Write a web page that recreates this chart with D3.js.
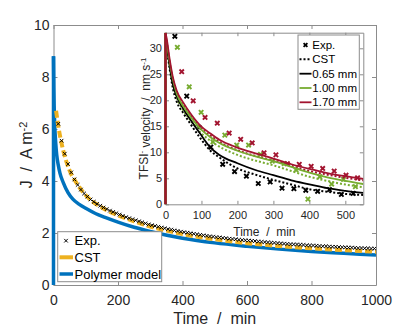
<!DOCTYPE html>
<html>
<head>
<meta charset="utf-8">
<script src="https://cdn.jsdelivr.net/npm/d3@7"></script>
<style>
body { margin: 0; background: #fff; }
svg { font-family: "Liberation Sans", Arial, Helvetica, sans-serif; }
.axis path, .axis line { stroke: #8c8c8c; }
.axis text { fill: #262626; }
</style>
</head>
<body>
<div id="chart"></div>
<script>
/* main plot data: current density J (A m^-2) vs time (min) */
var expTime = [15,25,35,45,55,65,75,85,95,105,115,125,135,145,155,165,175,185,195,
  205,215,225,235,245,255,265,275,285,295,305,315,325,335,345,355,365,375,385,395,
  405,415,425,435,445,455,465,475,485,495,505,515,525,535,545,555,565,575,585,595,
  605,615,625,635,645,655,665,675,685,695,705,715,725,735,745,755,765,775,785,795,
  805,815,825,835,845,855,865,875,885,895,905,915,925,935,945,955,965,975,985,995];
var expJ = [6.20,5.55,5.05,4.65,4.33,4.06,3.85,3.67,3.52,3.40,3.29,3.20,3.12,3.05,2.98,2.92,2.86,2.81,2.76,
  2.71,2.66,2.61,2.57,2.53,2.49,2.45,2.41,2.37,2.33,2.30,2.27,2.24,2.21,2.18,2.15,2.13,2.10,2.08,2.05,
  2.03,2.01,1.99,1.97,1.95,1.93,1.91,1.89,1.87,1.86,1.84,1.83,1.81,1.80,1.78,1.77,1.76,1.74,1.73,1.72,
  1.71,1.70,1.69,1.67,1.66,1.65,1.64,1.63,1.62,1.61,1.60,1.59,1.58,1.57,1.56,1.56,1.55,1.54,1.53,1.52,
  1.52,1.51,1.50,1.49,1.49,1.48,1.47,1.47,1.46,1.45,1.45,1.44,1.44,1.43,1.42,1.42,1.41,1.41,1.40,1.40];

var cstTime = [8,15,25,35,50,70,100,150,200,250,300,400,500,600,700,800,900,1000];
var cstJ = [6.7,6.1,5.45,4.95,4.4,3.95,3.45,2.98,2.68,2.45,2.25,1.96,1.76,1.61,1.50,1.41,1.34,1.28];

var polyTime = [0,0,1,2,4,7,10,15,20,30,45,60,80,100,130,160,200,250,300,400,500,600,700,800,900,1000];
var polyJ = [0,8.8,7.6,6.9,6.1,5.45,5.0,4.6,4.3,3.95,3.55,3.3,3.1,2.95,2.75,2.6,2.42,2.22,2.06,1.8,1.62,1.49,1.38,1.29,1.22,1.15];

var mainXTicks = [0,200,400,600,800,1000];
var mainYTicks = [0,2,4,6,8,10];
var mainLegend = ["Exp.", "CST", "Polymer model"];

/* inset data: TFSI- velocity (nm s^-1) vs time (min) */
var insetTime = [0,0,3,12,20,31,50,68,96,125,150,200,250,300,350,400,450,500,550];
var model065 = [0,33,31,26.5,23.2,20.8,18.3,16.4,13.6,10.9,9.5,7.9,6.6,5.6,4.6,3.85,3.1,2.6,2.2];
var model100 = [0,33,31.5,27.2,24.2,21.3,18.8,17.0,14.6,12.9,11.8,10.3,9.2,8.3,7.2,6.1,5.2,4.5,3.9];
var model170 = [0,33,32,27.7,24.6,21.9,19.5,17.6,15.2,13.6,12.4,10.9,9.8,8.8,7.7,6.8,6.0,5.4,4.9];
var cstTimeInset = [3,12,20,31,50,68,96,125,150,200,250,300,350,400,450,500,550];
var cst065 = [30.5,25.8,22.5,19.8,17.5,15.6,12.8,10.3,9.0,6.9,5.7,4.7,3.8,2.9,2.4,2.0,1.8];
var cst100 = [31,26.5,23.3,20.6,18,16.3,13.9,12.2,11.1,9.5,8.4,7.5,6.4,5.3,4.5,3.8,3.3];
var cst170 = [31.5,27,24,21.4,19,17.2,14.8,13.2,12.0,10.4,9.3,8.4,7.4,6.4,5.7,5.1,4.6];

var exp065Time = [26,59,93,126,159,192,225,258,291,324,357,390,423,456,489,522];
var exp065 = [32.3,20.8,14.8,11.0,7.7,6.3,5.4,4.0,4.3,3.1,3.0,2.7,2.5,2.8,1.9,2.1];
var exp100Time = [33,66,99,132,165,198,231,264,297,330,363,396,429,462,495,528];
var exp100 = [30.2,22.6,17.7,12.0,13.3,11.4,11.4,9.6,8.3,7.8,6.6,1.0,5.3,3.9,4.8,3.4];
var exp170Time = [45,77,110,144,177,209,241,274,307,339,372,405,437,469,502,534];
var exp170 = [25.5,19.9,16.7,15.6,13.7,12.5,11.8,9.9,9.5,7.8,7.7,7.3,6.9,6.4,5.6,5.1];

var insetXTicks = [0,100,200,300,400,500];
var insetYTicks = [0,5,10,15,20,25,30];
var insetLegend = ["Exp.", "CST", "0.65 mm", "1.00 mm", "1.70 mm"];

var blue = "#0072BD", orange = "#EDB120", green = "#77AC30", red = "#A2142F";

var svg = d3.select("#chart").append("svg")
  .attr("width", 415)
  .attr("height", 329);

function zip(xs, ys) { return xs.map(function(t, i) { return [t, ys[i]]; }); }
function cross(s) { return "M" + (-s) + "," + (-s) + "L" + s + "," + s + "M" + (-s) + "," + s + "L" + s + "," + (-s); }

/* ---------- main axes ---------- */
var x = d3.scaleLinear().domain([0, 1000]).range([53.5, 376]);
var y = d3.scaleLinear().domain([0, 10]).range([285, 25]);

svg.append("defs").append("clipPath").attr("id", "clipMain")
  .append("rect").attr("x", 50).attr("y", 25).attr("width", 326).attr("height", 262);

svg.append("g").attr("class", "axis")
  .attr("transform", "translate(0,285)")
  .call(d3.axisBottom(x).tickValues(mainXTicks).tickFormat(d3.format("d"))
    .tickSizeInner(-4).tickSizeOuter(0).tickPadding(10))
  .selectAll("text").style("font-size", "14px");
svg.append("g").attr("class", "axis")
  .attr("transform", "translate(0,25)")
  .call(d3.axisTop(x).tickValues(mainXTicks).tickSizeInner(-4).tickSizeOuter(0).tickFormat(""));
svg.append("g").attr("class", "axis")
  .attr("transform", "translate(53.5,0)")
  .call(d3.axisLeft(y).tickValues(mainYTicks).tickSizeInner(-4).tickSizeOuter(0).tickPadding(4))
  .selectAll("text").style("font-size", "14px");
svg.append("g").attr("class", "axis")
  .attr("transform", "translate(376,0)")
  .call(d3.axisRight(y).tickValues(mainYTicks).tickSizeInner(-4).tickSizeOuter(0).tickFormat(""));

var plot = svg.append("g").attr("clip-path", "url(#clipMain)");

var lineMain = d3.line().x(function(d) { return x(d[0]); }).y(function(d) { return y(d[1]); });
var smoothMain = d3.line().curve(d3.curveMonotoneX).x(function(d) { return x(d[0]); }).y(function(d) { return y(d[1]); });

var polyData = zip(polyTime, polyJ);
plot.append("path").attr("d", lineMain(polyData.slice(0, 2)))
  .attr("fill", "none").attr("stroke", blue).attr("stroke-width", 3.5);
plot.append("path").attr("d", smoothMain(polyData.slice(1)))
  .attr("fill", "none").attr("stroke", blue).attr("stroke-width", 3.5);

plot.append("path").attr("d", smoothMain(zip(cstTime, cstJ)))
  .attr("fill", "none").attr("stroke", orange).attr("stroke-width", 4)
  .attr("stroke-dasharray", "7,3");

plot.selectAll(".expm").data(zip(expTime, expJ)).enter().append("path")
  .attr("class", "expm")
  .attr("transform", function(d) { return "translate(" + x(d[0]) + "," + y(d[1]) + ")"; })
  .attr("d", cross(1.8)).attr("stroke", "#000").attr("stroke-width", 1);

/* main labels */
svg.append("text").attr("x", 214.75).attr("y", 324)
  .attr("text-anchor", "middle").style("font-size", "16px").style("white-space", "pre")
  .attr("fill", "#262626").text("Time  /  min");
var yl = svg.append("text").attr("transform", "translate(31.5,155) rotate(-90)")
  .attr("text-anchor", "middle").style("font-size", "16px").style("white-space", "pre")
  .attr("fill", "#262626");
yl.append("tspan").text("J  /  A m");
yl.append("tspan").attr("dy", "-0.45em").style("font-size", "11px").text("-2");

/* main legend */
var leg = svg.append("g");
leg.append("rect").attr("x", 57.7).attr("y", 231.7).attr("width", 104).attr("height", 50)
  .attr("fill", "#fff").attr("stroke", "#8c8c8c").attr("stroke-width", 1);
var legY = [240.7, 257.3, 274];
leg.append("path").attr("transform", "translate(66," + legY[0] + ")")
  .attr("d", cross(1.8)).attr("stroke", "#000").attr("stroke-width", 1);
leg.append("line").attr("x1", 59.5).attr("x2", 73).attr("y1", legY[1]).attr("y2", legY[1])
  .attr("stroke", orange).attr("stroke-width", 4);
leg.append("line").attr("x1", 59.5).attr("x2", 73).attr("y1", legY[2]).attr("y2", legY[2])
  .attr("stroke", blue).attr("stroke-width", 3.5);
leg.selectAll(".lt").data(mainLegend).enter().append("text")
  .attr("x", 74.5).attr("y", function(d, i) { return legY[i]; }).attr("dy", "0.36em")
  .style("font-size", "13px").attr("fill", "#000").text(function(d) { return d; });

/* ---------- inset axes ---------- */
var xi = d3.scaleLinear().domain([0, 550]).range([165.5, 363.3]);
var yi = d3.scaleLinear().domain([0, 33]).range([204.3, 32.7]);

var inset = svg.append("g");
inset.append("rect").attr("x", 165.5).attr("y", 32.7).attr("width", 197.8).attr("height", 171.6)
  .attr("fill", "#fff");
inset.append("defs").append("clipPath").attr("id", "clipInset")
  .append("rect").attr("x", 163).attr("y", 32.7).attr("width", 200.3).attr("height", 172);

inset.append("g").attr("class", "axis")
  .attr("transform", "translate(0,204.3)")
  .call(d3.axisBottom(xi).tickValues(insetXTicks).tickSizeInner(-3.5).tickSizeOuter(0).tickPadding(7.3))
  .selectAll("text").style("font-size", "11px");
inset.append("g").attr("class", "axis")
  .attr("transform", "translate(0,32.7)")
  .call(d3.axisTop(xi).tickValues(insetXTicks).tickSizeInner(-3.5).tickSizeOuter(0).tickFormat(""));
inset.append("g").attr("class", "axis")
  .attr("transform", "translate(165.5,0)")
  .call(d3.axisLeft(yi).tickValues(insetYTicks).tickSizeInner(-3.5).tickSizeOuter(0).tickPadding(3.5))
  .selectAll("text").style("font-size", "11px");
inset.append("g").attr("class", "axis")
  .attr("transform", "translate(363.3,0)")
  .call(d3.axisRight(yi).tickValues(insetYTicks).tickSizeInner(-3.5).tickSizeOuter(0).tickFormat(""));

var iplot = inset.append("g").attr("clip-path", "url(#clipInset)");
var lineI = d3.line().x(function(d) { return xi(d[0]); }).y(function(d) { return yi(d[1]); });
var smoothI = d3.line().curve(d3.curveMonotoneX).x(function(d) { return xi(d[0]); }).y(function(d) { return yi(d[1]); });

var series = [
  {model: model065, cst: cst065, exp: exp065, expT: exp065Time, color: "#000"},
  {model: model100, cst: cst100, exp: exp100, expT: exp100Time, color: green},
  {model: model170, cst: cst170, exp: exp170, expT: exp170Time, color: red}
];

series.forEach(function(s) {
  iplot.selectAll(null).data(zip(s.expT, s.exp)).enter().append("path")
    .attr("transform", function(d) { return "translate(" + xi(d[0]) + "," + yi(d[1]) + ")"; })
    .attr("d", cross(2.2)).attr("stroke", s.color).attr("stroke-width", 1.9);
});
series.forEach(function(s) {
  iplot.append("path").attr("d", smoothI(zip(cstTimeInset, s.cst)))
    .attr("fill", "none").attr("stroke", s.color).attr("stroke-width", 2)
    .attr("stroke-dasharray", "2,2");
});
series.forEach(function(s) {
  var md = zip(insetTime, s.model);
  iplot.append("path").attr("d", lineI(md.slice(0, 2)))
    .attr("fill", "none").attr("stroke", s.color).attr("stroke-width", 2.4);
  iplot.append("path").attr("d", smoothI(md.slice(1)))
    .attr("fill", "none").attr("stroke", s.color).attr("stroke-width", 1.8);
});

/* inset labels */
inset.append("text").attr("x", 264.4).attr("y", 236)
  .attr("text-anchor", "middle").style("font-size", "12px").style("white-space", "pre")
  .attr("fill", "#262626").text("Time  /  min");
var yli = inset.append("text").attr("transform", "translate(148,118.5) rotate(-90)")
  .attr("text-anchor", "middle").style("font-size", "12px").style("white-space", "pre")
  .attr("fill", "#262626");
yli.append("tspan").text("TFSI");
yli.append("tspan").attr("dy", "-0.45em").style("font-size", "8px").text("-");
yli.append("tspan").attr("dy", "0.45em").text(" velocity  /  nm s");
yli.append("tspan").attr("dy", "-0.45em").style("font-size", "8px").text("-1");

/* inset legend */
var ileg = inset.append("g");
ileg.append("rect").attr("x", 298).attr("y", 35).attr("width", 61.3).attr("height", 74.3)
  .attr("fill", "#fff").attr("stroke", "#8c8c8c").attr("stroke-width", 1);
var ilegY = [45, 59.3, 73.7, 88, 102.3];
ileg.append("path").attr("transform", "translate(305.5," + ilegY[0] + ")")
  .attr("d", cross(1.9)).attr("stroke", "#000").attr("stroke-width", 1.8);
ileg.append("line").attr("x1", 299.5).attr("x2", 311.5).attr("y1", ilegY[1]).attr("y2", ilegY[1])
  .attr("stroke", "#000").attr("stroke-width", 2).attr("stroke-dasharray", "2,2");
[ "#000", green, red ].forEach(function(c, i) {
  ileg.append("line").attr("x1", 299.5).attr("x2", 311.5).attr("y1", ilegY[i + 2]).attr("y2", ilegY[i + 2])
    .attr("stroke", c).attr("stroke-width", 1.8);
});
ileg.selectAll(".ilt").data(insetLegend).enter().append("text")
  .attr("x", 312.3).attr("y", function(d, i) { return ilegY[i]; }).attr("dy", "0.36em")
  .style("font-size", "11.5px").attr("fill", "#000").text(function(d) { return d; });
</script>
</body>
</html>
